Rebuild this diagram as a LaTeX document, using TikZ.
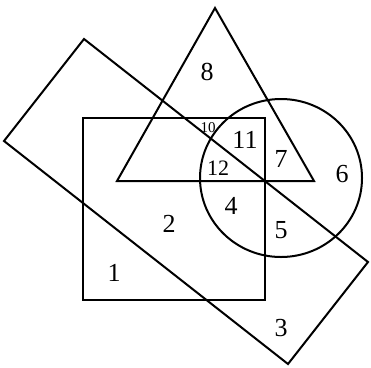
\documentclass[tikz,border=0pt]{standalone}
\usepackage{fontspec}
\setmainfont{Liberation Serif}

\tikzset{
  shapeline/.style={line width=2pt, line join=miter},
  region/.style={font=\fontsize{26}{26}\selectfont, inner sep=0pt},
  smallregion/.style={font=\fontsize{22}{22}\selectfont, inner sep=0pt},
  tinyregion/.style={font=\fontsize{15}{15}\selectfont, inner sep=0pt}
}

\begin{document}
\begin{tikzpicture}[x=1pt,y=-1pt]
  \useasboundingbox (0,0) rectangle (371,367);
  % Square
  \draw[shapeline] (83,118) rectangle (265,300);
  % Triangle
  \draw[shapeline] (215,8) -- (117,181) -- (314,181) -- cycle;
  % Circle
  \draw[shapeline] (281,178) ellipse (81 and 79);
  % Tilted rectangle
  \draw[shapeline] (84,39) -- (368,262) -- (288,364) -- (4,141) -- cycle;
  % Region labels
  \node[region] (r1) at (114,273) {1};
  \node[region] (r2) at (169,224) {2};
  \node[region] (r3) at (281,328) {3};
  \node[region] (r4) at (231,206) {4};
  \node[region] (r5) at (281,230) {5};
  \node[region] (r6) at (342,174) {6};
  \node[region] (r7) at (281,159) {7};
  \node[region] (r8) at (207,72) {8};
  \node[tinyregion] (r10) at (208,128) {10};
  \node[region] (r11) at (245,140) {11};
  \node[smallregion] (r12) at (218,168) {12};
\end{tikzpicture}
\end{document}
